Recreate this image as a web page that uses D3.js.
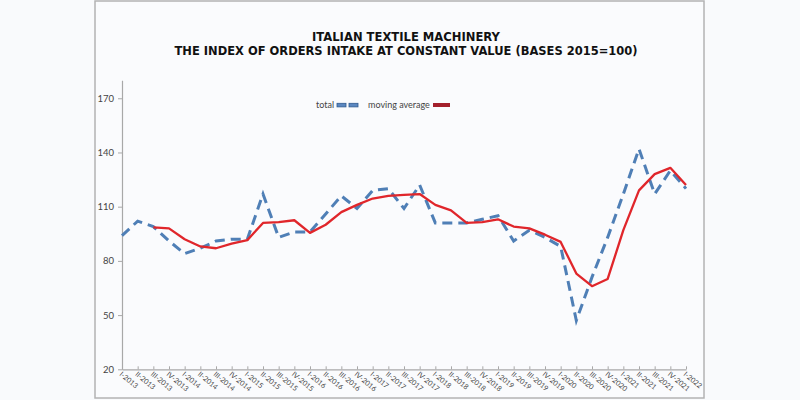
<!DOCTYPE html>
<html>
<head>
<meta charset="utf-8">
<script src="https://cdn.jsdelivr.net/npm/d3@7"></script>
<style>
  html, body { margin: 0; padding: 0; background: #f9fafc; }
  svg { display: block; }
</style>
</head>
<body>
<div id="chart"></div>
<script>
// quarters I-2013 .. I-2022
const quarters = ["I-2013","II-2013","III-2013","IV-2013",
  "I-2014","II-2014","III-2014","IV-2014",
  "I-2015","II-2015","III-2015","IV-2015",
  "I-2016","II-2016","III-2016","IV-2016",
  "I-2017","II-2017","III-2017","IV-2017",
  "I-2018","II-2018","III-2018","IV-2018",
  "I-2019","II-2019","III-2019","IV-2019",
  "I-2020","II-2020","III-2020","IV-2020",
  "I-2021","II-2021","III-2021","IV-2021",
  "I-2022"];

const totalValues = [94, 102, 99, 91,
  84, 87, 91, 92,
  92, 117, 93, 96,
  96, 106, 116, 109,
  119, 120, 109, 122,
  101, 101, 101, 103,
  105, 91, 97, 93,
  88, 47, 71, 93,
  117, 142, 117, 130,
  120];

// moving average starts at III-2013
const movingAvg = [null, null, 98.5, 98,
  92, 88, 87, 89.5,
  91.5, 101, 101.5, 102.5,
  95.5, 100, 107, 111,
  114.5, 116, 116.5, 117,
  111, 108, 101, 101.5,
  103, 99, 98, 94.5,
  90.5, 73, 66, 70,
  97, 119, 128, 131.5,
  122];

const yTicks = [20, 50, 80, 110, 140, 170];
const titleLines = ["ITALIAN TEXTILE MACHINERY", "THE INDEX OF ORDERS INTAKE AT CONSTANT VALUE (BASES 2015=100)"];

const W = 800, H = 400;
const svg = d3.select("#chart").append("svg")
  .attr("width", W).attr("height", H);

svg.append("rect").attr("width", W).attr("height", H).attr("fill", "#f9fafc");

// chart frame
svg.append("rect")
  .attr("x", 95).attr("y", 1)
  .attr("width", 609).attr("height", 397)
  .attr("fill", "#fafbfd")
  .attr("stroke", "#b3b3b3")
  .attr("stroke-width", 1.5);

const x = d3.scalePoint().domain(quarters).range([122, 686]);
const y = d3.scaleLinear().domain([20, 180]).range([369.3, 80.2]);

// title
svg.selectAll(".title")
  .data(titleLines)
  .enter().append("text")
  .attr("class", "title")
  .attr("x", 406)
  .attr("y", (d, i) => 41 + i * 13.5)
  .attr("text-anchor", "middle")
  .attr("textLength", (d, i) => i === 0 ? 188 : 463)
  .attr("lengthAdjust", "spacingAndGlyphs")
  .style("font-family", "'DejaVu Sans', sans-serif")
  .style("font-weight", "bold")
  .style("font-size", "12px")
  .style("fill", "#111")
  .text(d => d);

// y axis
const yAxis = d3.axisLeft(y).tickValues(yTicks).tickSizeInner(4).tickSizeOuter(0).tickPadding(4);
const gy = svg.append("g").attr("transform", "translate(122,0)").call(yAxis);
gy.select(".domain").attr("stroke", "#a8a8a8").attr("stroke-width", 1.2);
gy.selectAll(".tick line").attr("stroke", "#a8a8a8");
gy.selectAll(".tick text")
  .style("font-family", "Lato, sans-serif")
  .style("font-size", "9.5px")
  .style("fill", "#444");

// x axis
const xAxis = d3.axisBottom(x).tickSizeInner(-3).tickSizeOuter(0).tickFormat("");
const gx = svg.append("g").attr("transform", "translate(0,369.3)").call(xAxis);
gx.select(".domain").attr("stroke", "#a8a8a8").attr("stroke-width", 1.2);
gx.selectAll(".tick line").attr("stroke", "#a8a8a8");

svg.selectAll(".xlab")
  .data(quarters)
  .enter().append("text")
  .attr("class", "xlab")
  .attr("transform", d => `translate(${x(d) - 3},${375}) rotate(40)`)
  .style("font-family", "Lato, sans-serif")
  .style("font-size", "7.2px")
  .style("fill", "#444")
  .text(d => d);

// lines
const lineTotal = d3.line()
  .x((d, i) => x(quarters[i]))
  .y(d => y(d));

svg.append("path")
  .datum(totalValues)
  .attr("d", lineTotal)
  .attr("fill", "none")
  .attr("stroke", "#4f7fb6")
  .attr("stroke-width", 3)
  .attr("stroke-dasharray", "10,6");

const lineAvg = d3.line()
  .defined(d => d !== null)
  .x((d, i) => x(quarters[i]))
  .y(d => y(d));

svg.append("path")
  .datum(movingAvg)
  .attr("d", lineAvg)
  .attr("fill", "none")
  .attr("stroke", "#e0262b")
  .attr("stroke-width", 2.3)
  .attr("stroke-linejoin", "round");

// legend
const leg = svg.append("g").style("font-family", "Lato, sans-serif").style("font-size", "9px").style("fill", "#444");
leg.append("text").attr("x", 316).attr("y", 108).text("total");
[337, 349].forEach(px => {
  leg.append("rect").attr("x", px).attr("y", 103.3).attr("width", 9).attr("height", 3.6)
    .attr("fill", "#5b87c0").attr("stroke", "#2f5a8f").attr("stroke-width", 0.8);
});
leg.append("text").attr("x", 368).attr("y", 108).text("moving average");
leg.append("rect").attr("x", 433).attr("y", 103).attr("width", 17).attr("height", 4)
  .attr("fill", "#a3202c");
</script>
</body>
</html>
